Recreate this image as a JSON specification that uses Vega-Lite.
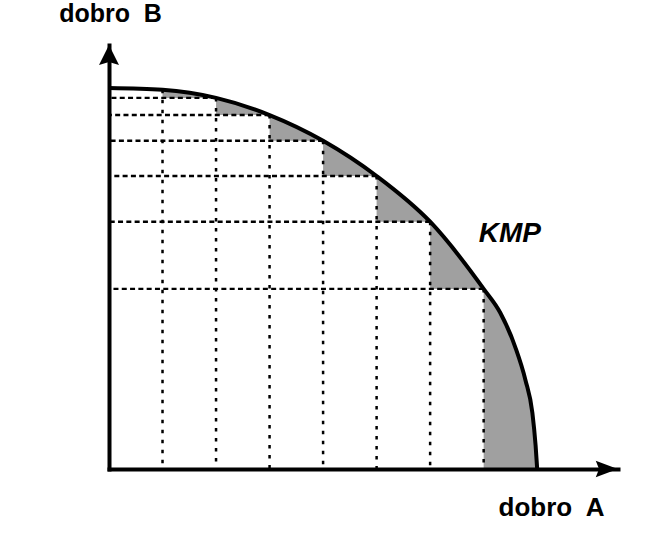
{
  "$schema": "https://vega.github.io/schema/vega-lite/v6.json",
  "width": 509,
  "height": 424,
  "autosize": {"type": "none"},
  "padding": {"left": 109, "top": 45, "right": 35, "bottom": 64},
  "background": "white",
  "config": {"view": {"stroke": null}},
  "datasets": {
    "frontier": [
      {"A": 0, "B": 8.0, "kind": "grid"},
      {"A": 1, "B": 7.96, "kind": "grid"},
      {"A": 2, "B": 7.79, "kind": "grid"},
      {"A": 3, "B": 7.43, "kind": "grid"},
      {"A": 4, "B": 6.89, "kind": "grid"},
      {"A": 5, "B": 6.15, "kind": "grid"},
      {"A": 6, "B": 5.19, "kind": "grid"},
      {"A": 7, "B": 3.78, "kind": "grid"},
      {"A": 7.31, "B": 3.28, "kind": "read"},
      {"A": 7.59, "B": 2.56, "kind": "read"},
      {"A": 7.78, "B": 1.87, "kind": "read"},
      {"A": 7.91, "B": 1.18, "kind": "read"},
      {"A": 7.97, "B": 0.5, "kind": "read"},
      {"A": 8, "B": 0, "kind": "grid"}
    ],
    "labels": [
      {"A": 7.49, "B": 4.77, "label": "KMP"}
    ],
    "arrows": [
      {"A": 0, "B": 8.69, "axis": "B"},
      {"A": 9.3, "B": 0, "axis": "A"}
    ]
  },
  "encoding": {
    "x": {
      "field": "A", "type": "quantitative",
      "scale": {"domain": [0, 9.51], "nice": false, "zero": false},
      "axis": {
        "domain": true, "domainColor": "black", "domainWidth": 4, "domainCap": "square",
        "ticks": false, "labels": false, "grid": false,
        "title": "dobro\u00a0 A", "titleFont": "Liberation Sans", "titleFontSize": 26,
        "titleFontWeight": "bold", "titleColor": "black",
        "titleX": 442, "titleY": 46, "titleAlign": "center", "titleBaseline": "alphabetic",
        "zindex": 1
      }
    },
    "y": {
      "field": "B", "type": "quantitative",
      "scale": {"domain": [0, 8.9], "nice": false, "zero": false},
      "axis": {
        "domain": true, "domainColor": "black", "domainWidth": 4, "domainCap": "square",
        "ticks": false, "labels": false, "grid": false,
        "title": "dobro\u00a0 B", "titleFont": "Liberation Sans", "titleFontSize": 25,
        "titleFontWeight": "bold", "titleColor": "black", "titleAngle": 0,
        "titleX": 1, "titleY": -24, "titleAlign": "center", "titleBaseline": "alphabetic",
        "zindex": 1
      }
    }
  },
  "layer": [
    {
      "data": {"name": "frontier"},
      "mark": {"type": "area", "interpolate": "monotone", "color": "#a0a0a0"}
    },
    {
      "data": {"name": "frontier"},
      "transform": [{"filter": "datum.kind == 'grid'"}],
      "mark": {"type": "area", "interpolate": "step-before", "color": "white"}
    },
    {
      "data": {"name": "frontier"},
      "transform": [{"filter": "datum.kind == 'grid' && datum.A >= 1 && datum.A <= 7"}],
      "mark": {"type": "rule", "color": "black", "strokeWidth": 2.5, "strokeDash": [3.5, 6.5]},
      "encoding": {"y2": {"datum": 0}}
    },
    {
      "data": {"name": "frontier"},
      "transform": [{"filter": "datum.kind == 'grid' && datum.A >= 2 && datum.A <= 7"}],
      "mark": {"type": "rule", "color": "black", "strokeWidth": 2.4, "strokeDash": [5, 3.3]},
      "encoding": {"x2": {"datum": 0}}
    },
    {
      "data": {"name": "frontier"},
      "mark": {"type": "line", "interpolate": "monotone", "color": "black", "strokeWidth": 4}
    },
    {
      "data": {"name": "labels"},
      "mark": {"type": "text", "font": "Liberation Sans", "fontSize": 28, "fontStyle": "italic", "fontWeight": "bold", "align": "center", "baseline": "alphabetic", "color": "black"},
      "encoding": {"text": {"field": "label"}}
    },
    {
      "data": {"name": "arrows"},
      "transform": [{"filter": "datum.axis == 'B'"}],
      "mark": {"type": "point", "shape": "M0,-1L-1,1L0,0.7L1,1Z", "size": 400, "filled": true, "color": "black", "opacity": 1, "clip": false}
    },
    {
      "data": {"name": "arrows"},
      "transform": [{"filter": "datum.axis == 'A'"}],
      "mark": {"type": "point", "shape": "M1,0L-1,-0.75L-0.7,0L-1,0.75Z", "size": 484, "filled": true, "color": "black", "opacity": 1, "clip": false}
    }
  ]
}
